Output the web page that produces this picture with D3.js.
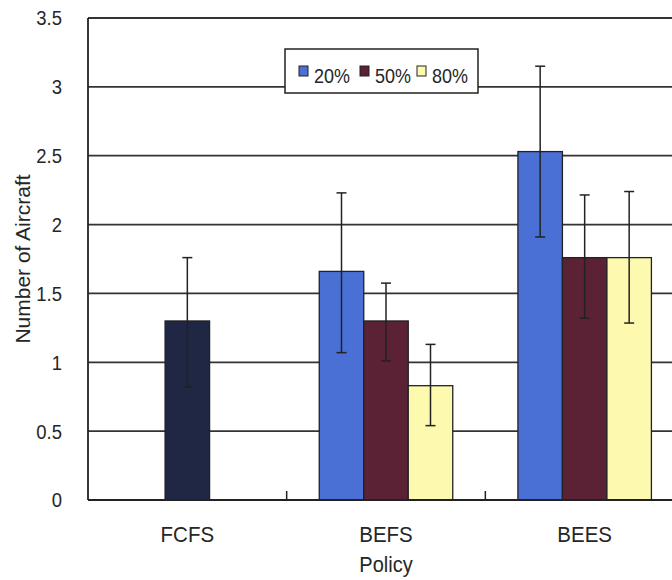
<!DOCTYPE html>
<html><head><meta charset="utf-8">
<script src="https://cdn.jsdelivr.net/npm/d3@7"></script>
<style>html,body{margin:0;padding:0;background:#fff;}svg{display:block;}</style>
</head><body>
<script>
const categories = ["FCFS", "BEFS", "BEES"];
const series = ["20%", "50%", "80%"];
// FCFS is a single bar
const fcfsValue = 1.30;
const fcfsLow = 0.82;
const fcfsHigh = 1.76;
// grouped series for BEFS, BEES
const groupCats = ["BEFS", "BEES"];
const values20 = [1.66, 2.53];
const values50 = [1.30, 1.76];
const values80 = [0.83, 1.76];
const low20 = [1.07, 1.91];
const high20 = [2.23, 3.15];
const low50 = [1.01, 1.32];
const high50 = [1.575, 2.215];
const low80 = [0.54, 1.285];
const high80 = [1.13, 2.24];
const yTicks = [0, 0.5, 1, 1.5, 2, 2.5, 3, 3.5];
const yTickLabels = ["0", "0.5", "1", "1.5", "2", "2.5", "3", "3.5"];

(function () {
const W = 672, H = 580;
const mLeft = 88, mRight = 684, mTop = 18, mBottom = 500;
const barW = 44.5;
const colors = {"20%": "#4a70d6", "50%": "#5a2234", "80%": "#fdfab0"};
const fcfsColor = "#1f2745";
const font = "Arial, 'Liberation Sans', sans-serif";
const txt = "#262626";

const svg = d3.select("body").append("svg").attr("width", W).attr("height", H);

const x0 = d3.scaleBand().domain(categories).range([mLeft, mRight]);
const x1 = d3.scaleBand().domain(series)
  .range([(x0.bandwidth() - 3 * barW) / 2, (x0.bandwidth() + 3 * barW) / 2]);
const y = d3.scaleLinear().domain([0, 3.5]).range([mBottom, mTop]);

// gridlines
svg.append("g").selectAll("line").data(yTicks.filter(d => d > 0)).join("line")
  .attr("x1", mLeft).attr("x2", mRight)
  .attr("y1", d => y(d)).attr("y2", d => y(d))
  .attr("stroke", "#333").attr("stroke-width", 1.8);

// y tick labels (slightly taller glyphs, like the reference)
svg.append("g").selectAll("text").data(yTicks).join("text")
  .attr("transform", d => `translate(62,${y(d)}) scale(1,1.12)`)
  .attr("dy", "0.36em")
  .attr("text-anchor", "end").attr("font-family", font).attr("font-size", 18.5)
  .attr("fill", txt).text((d, i) => yTickLabels[i]);

// build grouped data
const grouped = [];
groupCats.forEach((c, i) => {
  grouped.push({cat: c, s: "20%", v: values20[i], lo: low20[i], hi: high20[i]});
  grouped.push({cat: c, s: "50%", v: values50[i], lo: low50[i], hi: high50[i]});
  grouped.push({cat: c, s: "80%", v: values80[i], lo: low80[i], hi: high80[i]});
});

const gBars = svg.append("g");
gBars.selectAll("rect.g").data(grouped).join("rect")
  .attr("x", d => x0(d.cat) + x1(d.s)).attr("width", x1.bandwidth())
  .attr("y", d => y(d.v)).attr("height", d => y(0) - y(d.v))
  .attr("fill", d => colors[d.s]).attr("stroke", "#222").attr("stroke-width", 1.3);

// FCFS bar
const fcfsX = x0("FCFS") + x0.bandwidth() / 2 - barW / 2;
gBars.append("rect")
  .attr("x", fcfsX).attr("width", barW)
  .attr("y", y(fcfsValue)).attr("height", y(0) - y(fcfsValue))
  .attr("fill", fcfsColor).attr("stroke", "#222").attr("stroke-width", 1.3);

// error bars
const errData = grouped.map(d => ({cx: x0(d.cat) + x1(d.s) + x1.bandwidth() / 2, lo: d.lo, hi: d.hi}));
errData.push({cx: x0("FCFS") + x0.bandwidth() / 2, lo: fcfsLow, hi: fcfsHigh});
const gErr = svg.append("g").attr("stroke", "#222").attr("stroke-width", 1.5);
errData.forEach(d => {
  gErr.append("line").attr("x1", d.cx).attr("x2", d.cx).attr("y1", y(d.lo)).attr("y2", y(d.hi));
  gErr.append("line").attr("x1", d.cx - 5).attr("x2", d.cx + 5).attr("y1", y(d.lo)).attr("y2", y(d.lo));
  gErr.append("line").attr("x1", d.cx - 5).attr("x2", d.cx + 5).attr("y1", y(d.hi)).attr("y2", y(d.hi));
});

// axes lines
svg.append("line").attr("x1", mLeft).attr("x2", mLeft).attr("y1", mTop).attr("y2", mBottom)
  .attr("stroke", "#222").attr("stroke-width", 1.8);
svg.append("line").attr("x1", mLeft).attr("x2", mRight).attr("y1", mBottom).attr("y2", mBottom)
  .attr("stroke", "#222").attr("stroke-width", 1.8);
// category boundary ticks
svg.append("g").selectAll("line").data(categories.slice(1)).join("line")
  .attr("x1", d => x0(d)).attr("x2", d => x0(d))
  .attr("y1", mBottom).attr("y2", mBottom - 9)
  .attr("stroke", "#222").attr("stroke-width", 1.5);

// x labels
svg.append("g").selectAll("text").data(categories).join("text")
  .attr("transform", d => `translate(${x0(d) + x0.bandwidth() / 2},542) scale(1,1.1)`)
  .attr("text-anchor", "middle").attr("font-family", font).attr("font-size", 20.5)
  .attr("fill", txt).text(d => d);

svg.append("text").attr("transform", "translate(386,572) scale(1,1.06)").attr("text-anchor", "middle")
  .attr("font-family", font).attr("font-size", 20).attr("fill", txt).text("Policy");

svg.append("text").attr("transform", "translate(30,259) rotate(-90)")
  .attr("text-anchor", "middle").attr("font-family", font).attr("font-size", 21)
  .attr("fill", txt).text("Number of Aircraft");

// legend
const lg = svg.append("g");
lg.append("rect").attr("x", 285).attr("y", 49).attr("width", 193).attr("height", 44)
  .attr("fill", "#fff").attr("stroke", "#222").attr("stroke-width", 1.5);
const legX = [299, 360, 417];
series.forEach((s, i) => {
  lg.append("rect").attr("x", legX[i]).attr("y", 66).attr("width", 9).attr("height", 10)
    .attr("fill", colors[s]).attr("stroke", "#222").attr("stroke-width", 1);
  lg.append("text").attr("transform", `translate(${legX[i] + 15},83) scale(1,1.15)`)
    .attr("font-family", font).attr("font-size", 18).attr("fill", txt).text(s);
});
})();
</script>
</body></html>
